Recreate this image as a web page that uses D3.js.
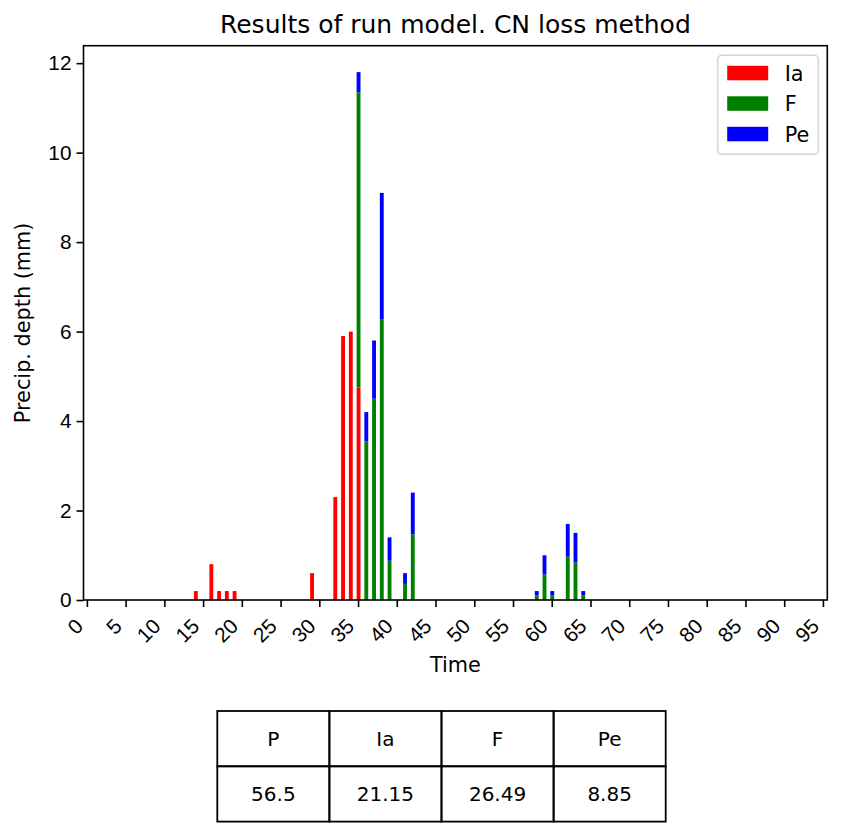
<!DOCTYPE html>
<html>
<head>
<meta charset="utf-8">
<script src="https://cdn.jsdelivr.net/npm/d3@7"></script>
<style>
  body { margin: 0; background: #fff; }
  svg { font-family: "DejaVu Sans", sans-serif; }
</style>
</head>
<body>
<svg id="viz" width="843" height="837"></svg>
<script>
// Time steps (categories) and the three stacked series

var times = d3.range(96);

var ia = [
	0, 0, 0, 0, 0, 0, 0, 0, 0, 0, 0, 0, 0, 0, 0.2, 0,
	0.8, 0.2, 0.2, 0.2, 0, 0, 0, 0, 0, 0, 0, 0, 0, 0.6, 0, 0,
	2.3, 5.9, 6.0, 4.75, 0, 0, 0, 0, 0, 0, 0, 0, 0, 0, 0, 0,
	0, 0, 0, 0, 0, 0, 0, 0, 0, 0, 0, 0, 0, 0, 0, 0,
	0, 0, 0, 0, 0, 0, 0, 0, 0, 0, 0, 0, 0, 0, 0, 0,
	0, 0, 0, 0, 0, 0, 0, 0, 0, 0, 0, 0, 0, 0, 0, 0
];

var f = [
	0, 0, 0, 0, 0, 0, 0, 0, 0, 0, 0, 0, 0, 0, 0, 0,
	0, 0, 0, 0, 0, 0, 0, 0, 0, 0, 0, 0, 0, 0, 0, 0,
	0, 0, 0, 6.6, 3.55, 4.5, 6.28, 0.88, 0, 0.36, 1.47, 0, 0, 0, 0, 0,
	0, 0, 0, 0, 0, 0, 0, 0, 0, 0, 0.1, 0.57, 0.1, 0, 0.97, 0.84,
	0.1, 0, 0, 0, 0, 0, 0, 0, 0, 0, 0, 0, 0, 0, 0, 0,
	0, 0, 0, 0, 0, 0, 0, 0, 0, 0, 0, 0, 0, 0, 0, 0
];

var pe = [
	0, 0, 0, 0, 0, 0, 0, 0, 0, 0, 0, 0, 0, 0, 0, 0,
	0, 0, 0, 0, 0, 0, 0, 0, 0, 0, 0, 0, 0, 0, 0, 0,
	0, 0, 0, 0.45, 0.65, 1.3, 2.82, 0.52, 0, 0.24, 0.93, 0, 0, 0, 0, 0,
	0, 0, 0, 0, 0, 0, 0, 0, 0, 0, 0.1, 0.43, 0.1, 0, 0.73, 0.66,
	0.1, 0, 0, 0, 0, 0, 0, 0, 0, 0, 0, 0, 0, 0, 0, 0,
	0, 0, 0, 0, 0, 0, 0, 0, 0, 0, 0, 0, 0, 0, 0, 0
];

var seriesNames = ["Ia", "F", "Pe"];
var seriesColors = ["red", "green", "blue"];
var yTicks = [0, 2, 4, 6, 8, 10, 12];

// Summary table

var tableHeader = ["P", "Ia", "F", "Pe"];
var tableValues = ["56.5", "21.15", "26.49", "8.85"];

// Plot area

var svg = d3.select("svg"),
	plotLeft = 83.5, plotRight = 827.3, plotTop = 45.7, plotBottom = 600,
	fs = 20.8;

var rows = times.map((t, i) => ({t: t, Ia: ia[i], F: f[i], Pe: pe[i]}));
var stacked = d3.stack().keys(seriesNames)(rows);

var x = d3.scaleBand()
	.domain(times)
	.range([plotLeft, plotRight])
	.paddingInner(0.5)
	.paddingOuter(0.25);

var yMax = d3.max(rows, d => d.Ia + d.F + d.Pe) * 1.05;
var y = d3.scaleLinear().domain([0, yMax]).range([plotBottom, plotTop]);

// Bars

svg.append("g")
	.selectAll("g")
	.data(stacked)
	.enter()
	.append("g")
	.attr("fill", (d, i) => seriesColors[i])
	.selectAll("rect")
	.data(d => d.filter(s => s[1] > s[0]))
	.enter()
	.append("rect")
	.attr("x", d => x(d.data.t))
	.attr("width", x.bandwidth())
	.attr("y", d => y(d[1]))
	.attr("height", d => y(d[0]) - y(d[1]));

// Axes

var xAxis = svg.append("g")
	.attr("transform", "translate(0," + plotBottom + ")")
	.call(d3.axisBottom(x)
		.tickValues(times.filter(t => t % 5 == 0))
		.tickSize(7)
		.tickSizeOuter(0));
xAxis.select(".domain").remove();
xAxis.selectAll("line").attr("stroke", "#000").attr("stroke-width", 1.6);
xAxis.selectAll("text")
	.attr("font-size", fs)
	.attr("fill", "#000")
	.attr("text-anchor", "end")
	.attr("dy", null)
	.attr("y", 0)
	.attr("transform", "translate(-3,27.5) rotate(-45)");

var yAxis = svg.append("g")
	.attr("transform", "translate(" + plotLeft + ",0)")
	.call(d3.axisLeft(y).tickValues(yTicks).tickSize(7).tickPadding(5));
yAxis.select(".domain").remove();
yAxis.selectAll("line").attr("stroke", "#000").attr("stroke-width", 1.6);
yAxis.selectAll("text").attr("font-size", fs).attr("fill", "#000");

// Frame

svg.append("rect")
	.attr("x", plotLeft)
	.attr("y", plotTop)
	.attr("width", plotRight - plotLeft)
	.attr("height", plotBottom - plotTop)
	.attr("fill", "none")
	.attr("stroke", "#000")
	.attr("stroke-width", 1.6);

// Titles

svg.append("text")
	.attr("x", (plotLeft + plotRight) / 2)
	.attr("y", 33)
	.attr("text-anchor", "middle")
	.attr("font-size", 25)
	.text("Results of run model. CN loss method");

svg.append("text")
	.attr("x", (plotLeft + plotRight) / 2)
	.attr("y", 672)
	.attr("text-anchor", "middle")
	.attr("font-size", fs)
	.text("Time");

svg.append("text")
	.attr("transform", "translate(30," + (plotTop + plotBottom) / 2 + ") rotate(-90)")
	.attr("text-anchor", "middle")
	.attr("font-size", fs)
	.text("Precip. depth (mm)");

// Legend

var legend = svg.append("g").attr("transform", "translate(717.7,55.3)");
legend.append("rect")
	.attr("width", 100.6)
	.attr("height", 99)
	.attr("rx", 4)
	.attr("fill", "#fff")
	.attr("fill-opacity", 0.8)
	.attr("stroke", "#d6d6d6")
	.attr("stroke-width", 1.6);

var item = legend.selectAll("g.item")
	.data(seriesNames)
	.enter()
	.append("g")
	.attr("class", "item")
	.attr("transform", (d, i) => "translate(0," + (18 + i * 30.5) + ")");
item.append("rect")
	.attr("x", 9.5)
	.attr("y", -7.5)
	.attr("width", 41)
	.attr("height", 14.5)
	.attr("fill", (d, i) => seriesColors[i]);
item.append("text")
	.attr("x", 67)
	.attr("dy", "0.35em")
	.attr("font-size", fs)
	.text(d => d);

// Table below the chart

var tLeft = 217.3, tTop = 711, cellW = 112.1, cellH = 55.3;
var table = svg.append("g");
[tableHeader, tableValues].forEach((row, r) => {
	row.forEach((v, c) => {
		table.append("rect")
			.attr("x", tLeft + c * cellW)
			.attr("y", tTop + r * cellH)
			.attr("width", cellW)
			.attr("height", cellH)
			.attr("fill", "none")
			.attr("stroke", "#000")
			.attr("stroke-width", 1.8);
		table.append("text")
			.attr("x", tLeft + (c + 0.5) * cellW)
			.attr("y", tTop + (r + 0.5) * cellH)
			.attr("dy", "0.35em")
			.attr("text-anchor", "middle")
			.attr("font-size", 20)
			.text(v);
	});
});
</script>
</body>
</html>
